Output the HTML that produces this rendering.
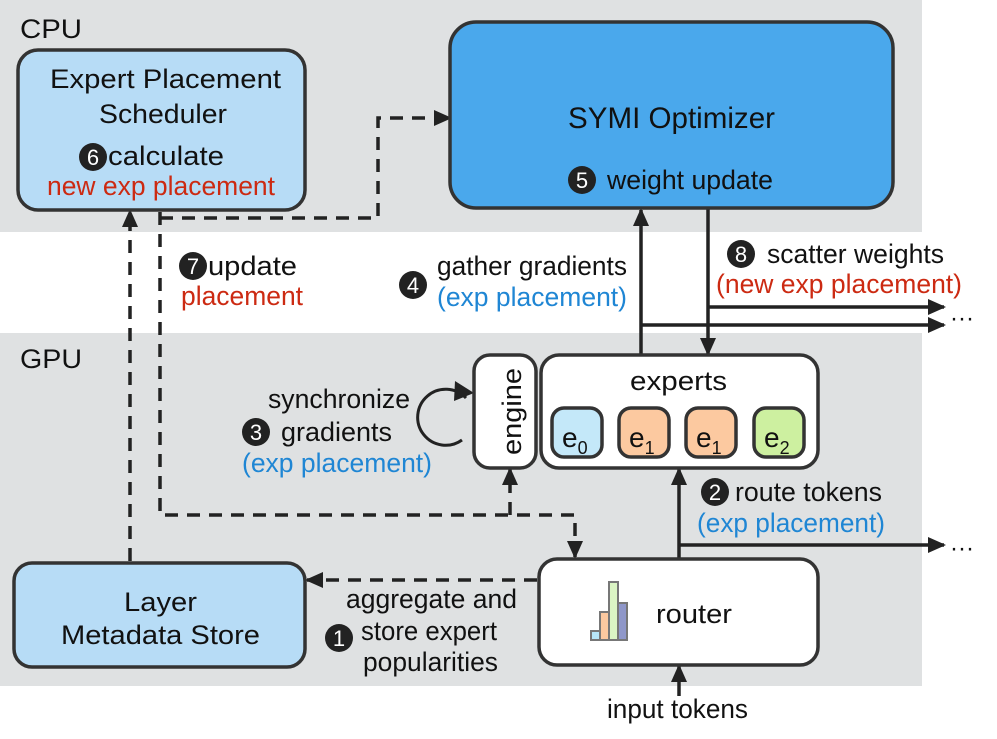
<!DOCTYPE html>
<html><head><meta charset="utf-8"><style>
html,body{margin:0;padding:0;background:#fff}
svg{display:block}
text{font-family:"Liberation Sans",Arial,sans-serif;fill:#111}
.r{fill:#cc2a12}.b{fill:#1f86d4}.w{fill:#fff}
</style></head><body>
<svg width="997" height="739" viewBox="0 0 997 739" xmlns="http://www.w3.org/2000/svg">
<defs>
<marker id="A" markerWidth="18" markerHeight="18" refX="16" refY="9" orient="auto" markerUnits="userSpaceOnUse" viewBox="0 0 18 18"><path d="M0,1 L18,9 L0,17 z" fill="#222"/></marker>
</defs>
<rect x="0" y="0" width="922" height="232" fill="#dfe1e2"/>
<rect x="0" y="333" width="922" height="353" fill="#dfe1e2"/>
<text x="20" y="38" font-size="27" fill="#333" textLength="62" lengthAdjust="spacingAndGlyphs">CPU</text>
<text x="20" y="368" font-size="27" fill="#333" textLength="62" lengthAdjust="spacingAndGlyphs">GPU</text>

<g stroke="#222" stroke-width="3.5" fill="none">
<line x1="641" y1="355" x2="641" y2="210" marker-end="url(#A)"/>
<line x1="708" y1="208" x2="708" y2="354" marker-end="url(#A)"/>
<line x1="708" y1="307" x2="944" y2="307" marker-end="url(#A)"/>
<line x1="641" y1="325" x2="944" y2="325" marker-end="url(#A)"/>
<line x1="679" y1="559" x2="679" y2="469" marker-end="url(#A)"/>
<line x1="679" y1="545" x2="944" y2="545" marker-end="url(#A)"/>
<line x1="679" y1="696" x2="679" y2="666" marker-end="url(#A)"/>
</g>
<g stroke="#222" stroke-width="3.5" fill="none" stroke-dasharray="13,9">
<polyline points="160,212 160,515 575,515 575,557" marker-end="url(#A)"/>
<polyline points="510,515 510,469" marker-end="url(#A)"/>
<polyline points="160,218 378,218 378,118 450,118" marker-end="url(#A)"/>
<polyline points="537,580 307,580" marker-end="url(#A)"/>
<polyline points="130,561 130,211" marker-end="url(#A)"/>
</g>
<path d="M466,398 A28,28 0 1 0 462,440" stroke="#222" stroke-width="3" fill="none"/>
<path d="M455,381 L474,393 L454,401 z" fill="#222"/>

<g stroke="#333" stroke-width="3.5">
<rect x="18" y="50" width="287" height="160" rx="20" fill="#b7dcf6"/>
<rect x="450" y="22" width="443" height="186" rx="26" fill="#4aa8ec"/>
<rect x="474" y="355" width="62" height="113" rx="16" fill="#fff"/>
<rect x="541" y="355" width="277" height="113" rx="18" fill="#fff"/>
<rect x="552" y="408" width="50" height="49" rx="12" fill="#c4e8f9"/>
<rect x="619" y="408" width="50" height="49" rx="12" fill="#fcc9a0"/>
<rect x="686" y="408" width="50" height="49" rx="12" fill="#fcc9a0"/>
<rect x="754" y="408" width="50" height="49" rx="12" fill="#cdf0a0"/>
<rect x="14" y="563" width="291" height="104" rx="18" fill="#b7dcf6"/>
<rect x="539" y="559" width="279" height="106" rx="18" fill="#fff"/>
</g>
<g stroke="#777" stroke-width="2">
<rect x="591" y="631" width="9" height="9" fill="#b7e6f8"/>
<rect x="600" y="612" width="9" height="28" fill="#fcc9a0"/>
<rect x="609" y="582" width="9" height="58" fill="#dbf5c4"/>
<rect x="618" y="603" width="9" height="37" fill="#8f97c9"/>
</g>

<g font-size="27">
<text x="50" y="88" textLength="231" lengthAdjust="spacingAndGlyphs">Expert Placement</text>
<text x="99" y="123" textLength="128" lengthAdjust="spacingAndGlyphs">Scheduler</text>
<text x="108" y="165" textLength="116" lengthAdjust="spacingAndGlyphs">calculate</text>
<text x="47" y="195" class="r" textLength="228" lengthAdjust="spacingAndGlyphs">new exp placement</text>
<text x="568" y="128" font-size="30" textLength="207" lengthAdjust="spacingAndGlyphs">SYMI Optimizer</text>
<text x="607" y="189" textLength="166" lengthAdjust="spacingAndGlyphs">weight update</text>
<text x="630" y="390" textLength="97" lengthAdjust="spacingAndGlyphs">experts</text>
<text x="124" y="611" textLength="73" lengthAdjust="spacingAndGlyphs">Layer</text>
<text x="61" y="644" textLength="199" lengthAdjust="spacingAndGlyphs">Metadata Store</text>
<text x="656" y="623" textLength="76" lengthAdjust="spacingAndGlyphs">router</text>
<text x="607" y="718" textLength="141" lengthAdjust="spacingAndGlyphs">input tokens</text>
<text transform="translate(521,455) rotate(-90)" textLength="87" lengthAdjust="spacingAndGlyphs">engine</text>
<text x="208" y="275" textLength="89" lengthAdjust="spacingAndGlyphs">update</text>
<text x="181" y="305" class="r" textLength="122" lengthAdjust="spacingAndGlyphs">placement</text>
<text x="437" y="275" textLength="190" lengthAdjust="spacingAndGlyphs">gather gradients</text>
<text x="437" y="306" class="b" textLength="190" lengthAdjust="spacingAndGlyphs">(exp placement)</text>
<text x="767" y="263" textLength="177" lengthAdjust="spacingAndGlyphs">scatter weights</text>
<text x="716" y="293" class="r" textLength="246" lengthAdjust="spacingAndGlyphs">(new exp placement)</text>
<text x="268" y="408" textLength="142" lengthAdjust="spacingAndGlyphs">synchronize</text>
<text x="281" y="441" textLength="111" lengthAdjust="spacingAndGlyphs">gradients</text>
<text x="242" y="472" class="b" textLength="190" lengthAdjust="spacingAndGlyphs">(exp placement)</text>
<text x="735" y="501" textLength="147" lengthAdjust="spacingAndGlyphs">route tokens</text>
<text x="697" y="532" class="b" textLength="188" lengthAdjust="spacingAndGlyphs">(exp placement)</text>
<text x="346" y="608" textLength="171" lengthAdjust="spacingAndGlyphs">aggregate and</text>
<text x="361" y="640" textLength="136" lengthAdjust="spacingAndGlyphs">store expert</text>
<text x="363" y="671" textLength="135" lengthAdjust="spacingAndGlyphs">popularities</text>
</g>
<g font-size="28">
<text x="562" y="447">e<tspan font-size="18" dy="7">0</tspan></text>
<text x="629" y="447">e<tspan font-size="18" dy="7">1</tspan></text>
<text x="696" y="447">e<tspan font-size="18" dy="7">1</tspan></text>
<text x="764" y="447">e<tspan font-size="18" dy="7">2</tspan></text>
</g>
<g font-size="24"><text x="950" y="326">···</text><text x="950" y="556">···</text></g>
<g font-size="22" text-anchor="middle">
<circle cx="93" cy="157" r="14" fill="#222"/><text x="93" y="165" class="w">6</text>
<circle cx="582" cy="180" r="14" fill="#222"/><text x="582" y="188" class="w">5</text>
<circle cx="193" cy="266" r="14" fill="#222"/><text x="193" y="274" class="w">7</text>
<circle cx="413" cy="285" r="14" fill="#222"/><text x="413" y="293" class="w">4</text>
<circle cx="741" cy="254" r="14" fill="#222"/><text x="741" y="262" class="w">8</text>
<circle cx="256" cy="432" r="14" fill="#222"/><text x="256" y="440" class="w">3</text>
<circle cx="715" cy="492" r="14" fill="#222"/><text x="715" y="500" class="w">2</text>
<circle cx="339" cy="638" r="14" fill="#222"/><text x="339" y="646" class="w">1</text>
</g>
</svg>
</body></html>
